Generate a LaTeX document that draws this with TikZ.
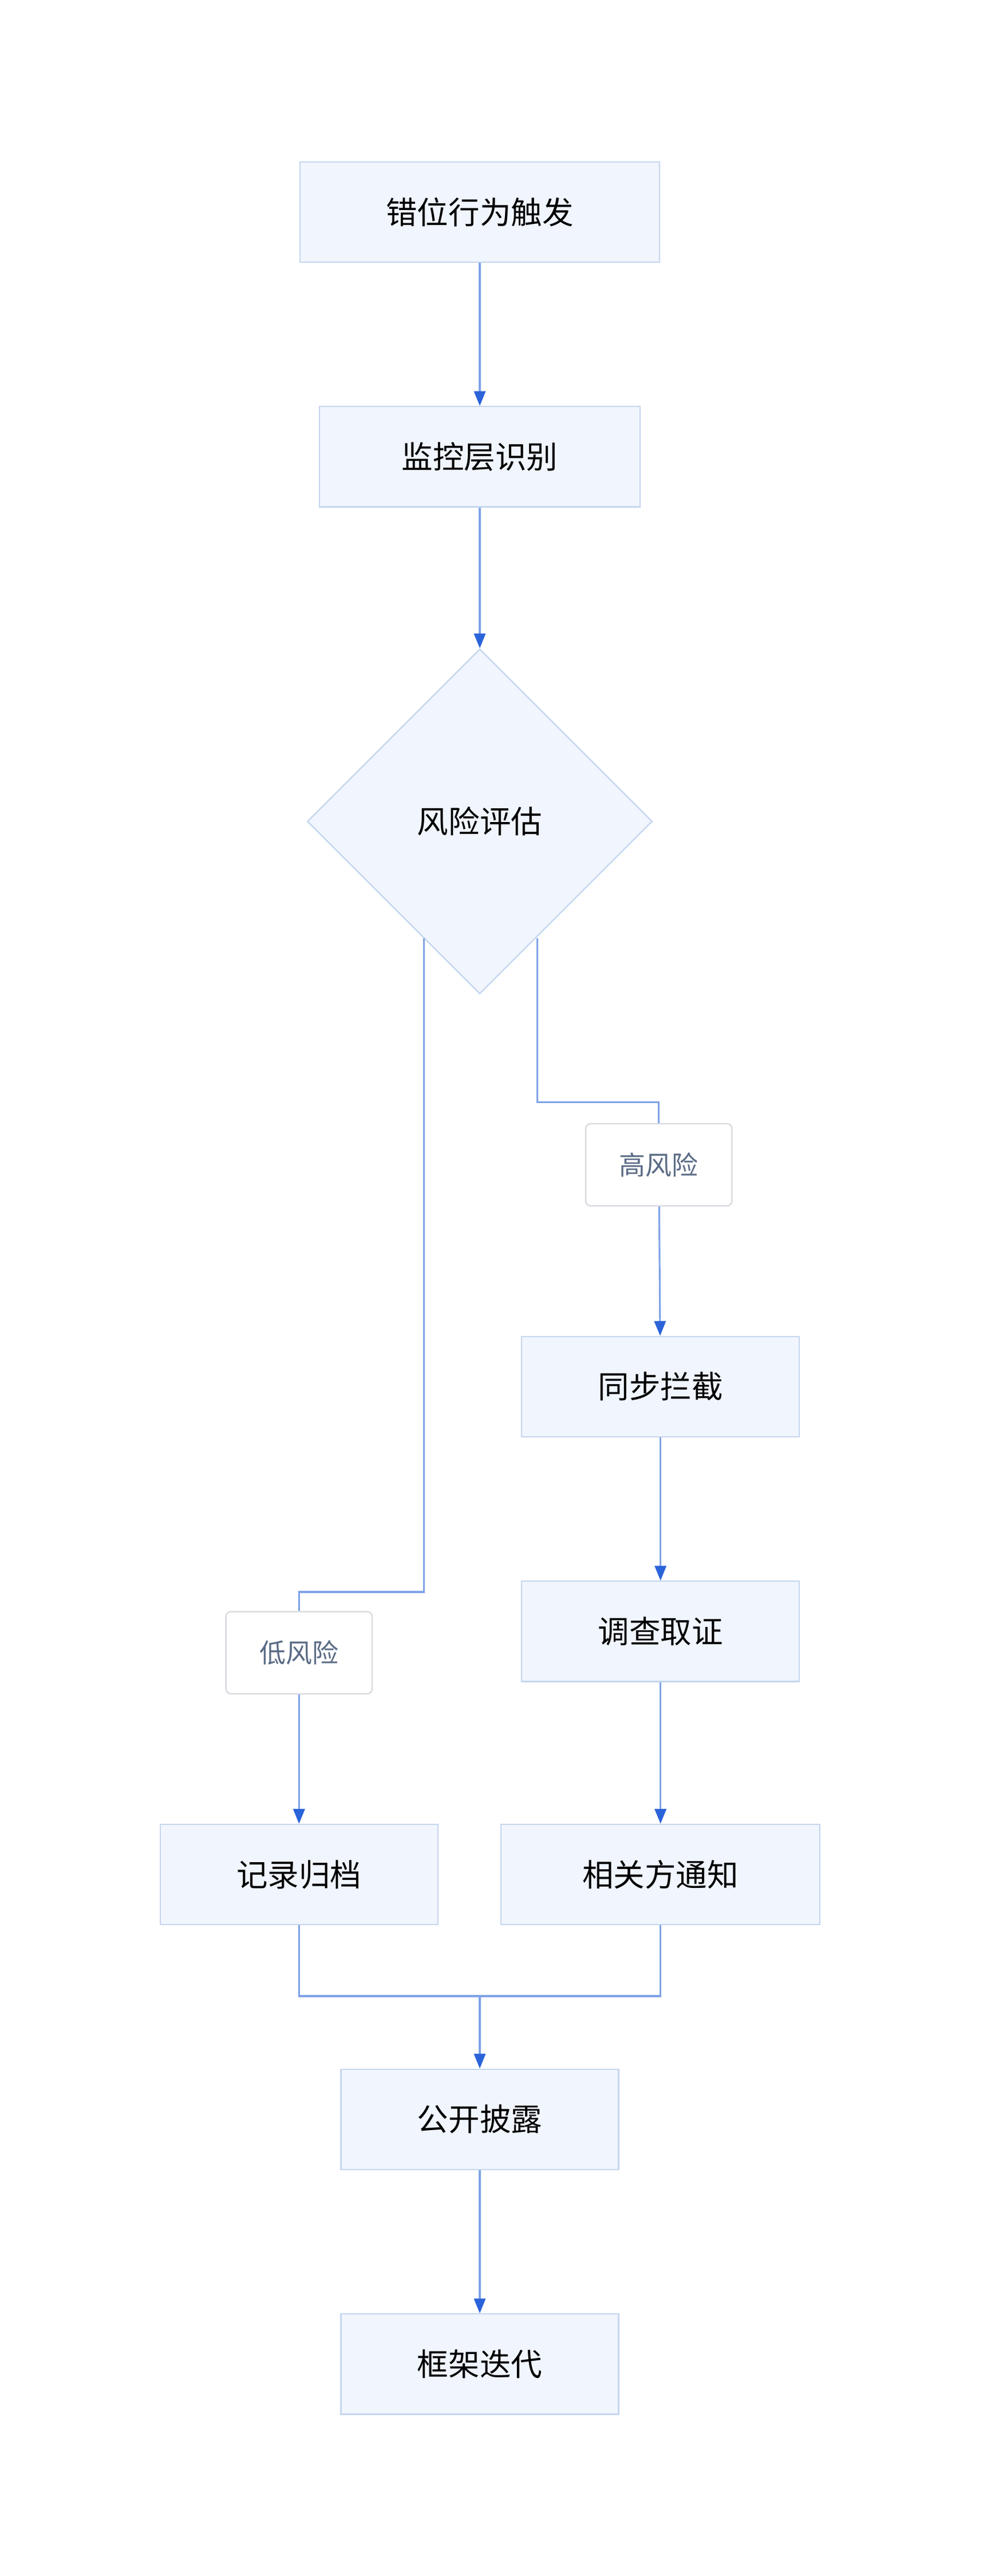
\documentclass[tikz,border=0pt]{standalone}
\usepackage{fontspec}
\setmainfont{Noto Sans CJK SC}
\usetikzlibrary{shapes.geometric,arrows.meta}
\definecolor{boxf}{HTML}{F0F5FE}
\definecolor{boxd}{HTML}{C5D6EE}
\definecolor{linec}{HTML}{7FA3E8}
\definecolor{tipc}{HTML}{2B63D9}
\definecolor{labt}{HTML}{5A6B85}
\definecolor{labd}{HTML}{D6D9DE}
\begin{document}
\begin{tikzpicture}[x=1pt,y=-1pt,
 box/.style={draw=boxd,fill=boxf,line width=0.8pt,minimum height=61pt,inner sep=0pt,font=\fontsize{19}{22}\selectfont},
 lab/.style={draw=labd,fill=white,rounded corners=3pt,line width=0.8pt,minimum width=89pt,minimum height=50pt,inner sep=0pt,text=labt,font=\fontsize{16}{20}\selectfont},
 ln/.style={draw=linec,line width=1.1pt},
 ar/.style={ln,-{Triangle[length=9pt,width=7pt,color=tipc]}}]
\useasboundingbox (0,0) rectangle (598,1568);
\node[box,minimum width=219pt] (a) at (292,129) {错位行为触发};
\node[box,minimum width=195pt] (b) at (292,278) {监控层识别};
\node[diamond,draw=boxd,fill=boxf,line width=0.8pt,minimum width=210pt,minimum height=210pt,inner sep=0pt,aspect=1,font=\fontsize{19}{22}\selectfont] (c) at (292,500) {风险评估};
\node[lab] (h) at (401,709) {高风险};
\node[box,minimum width=169pt] (d) at (402,844) {同步拦截};
\node[box,minimum width=169pt] (e) at (402,993) {调查取证};
\node[box,minimum width=194pt] (f) at (402,1141) {相关方通知};
\node[lab] (l) at (182,1006) {低风险};
\node[box,minimum width=169pt] (g) at (182,1141) {记录归档};
\node[box,minimum width=169pt] (i) at (292,1290) {公开披露};
\node[box,minimum width=169pt] (j) at (292,1439) {框架迭代};
\coordinate (cr) at (327,571);
\coordinate (cl) at (258,571);
\coordinate (m) at (292,1215);
\draw[ar] (a) -- (b);
\draw[ar] (b) -- (c);
\draw[ln] (cr) -- (327,671) -- (401,671) -- (h.north);
\draw[ar] (h) -- (d);
\draw[ar] (d) -- (e);
\draw[ar] (e) -- (f);
\draw[ln] (cl) -- (258,969) -- (182,969) -- (l.north);
\draw[ar] (l) -- (g);
\draw[ln] (g.south) -- (182,1215) -- (402,1215) -- (f.south);
\draw[ar] (m) -- (i);
\draw[ar] (i) -- (j);
\end{tikzpicture}
\end{document}
